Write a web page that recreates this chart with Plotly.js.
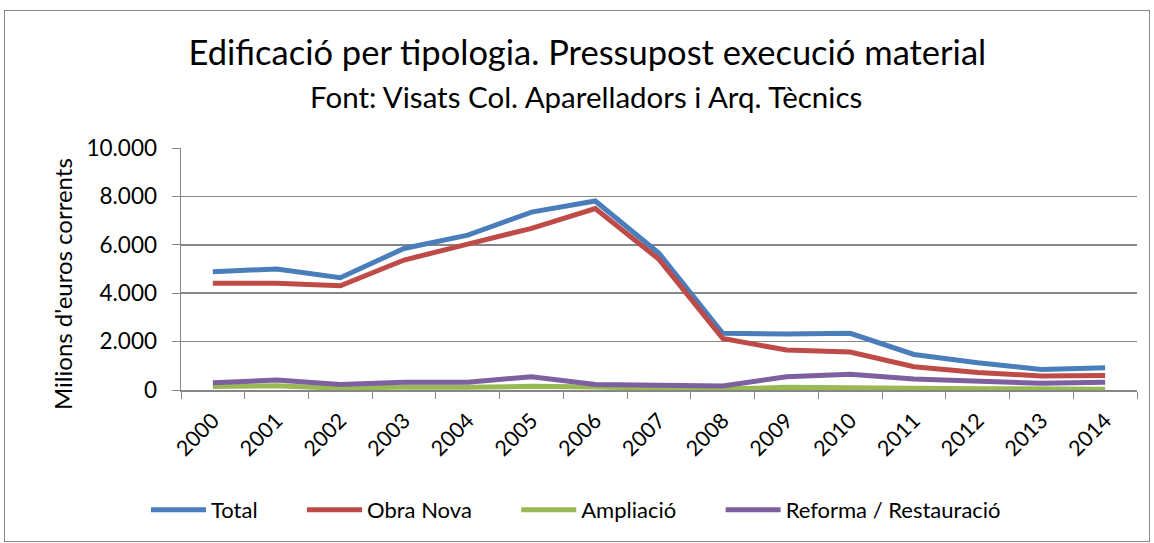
<!DOCTYPE html>
<html>
<head>
<meta charset="utf-8">
<script src="https://cdn.plot.ly/plotly-3.0.1.min.js"></script>
<style>
html,body{margin:0;padding:0;background:#fff;}
#frame{position:absolute;left:4px;top:10px;width:1146px;height:532px;border:1px solid #868686;box-sizing:border-box;}
#chart{position:absolute;left:0;top:0;width:1154px;height:543px;}
</style>
</head>
<body>
<div id="frame"></div>
<div id="chart"></div>
<script>
const years = ["2000","2001","2002","2003","2004","2005","2006","2007","2008","2009","2010","2011","2012","2013","2014"];
const total = [4890,5000,4640,5850,6400,7350,7810,5650,2340,2310,2340,1470,1130,850,920];
const obraNova = [4410,4410,4310,5370,6030,6680,7500,5400,2130,1650,1570,960,720,580,600];
const ampliacio = [140,180,70,120,110,150,120,70,40,110,110,70,55,30,30];
const reforma = [300,410,230,320,320,550,230,210,165,550,650,450,340,280,320];
const seriesNames = ["Total","Obra Nova","Ampliació","Reforma / Restauració"];
const colors = ["#4A7EBB","#BE4B48","#98B954","#7D60A0"];
const titleText = "Edificació per tipologia. Pressupost execució material";
const subtitleText = "Font: Visats Col. Aparelladors i Arq. Tècnics";
const yTitleText = "Milions d'euros corrents";
const pad = "\u00a0".repeat(7);
const data = [total, obraNova, ampliacio, reforma].map((v,i)=>({
  x: years, y: v, name: seriesNames[i] + (i < 3 ? pad : ""), type: "scatter", mode: "lines",
  line: {color: colors[i], width: 5}
}));
const font = "Lato, 'Open Sans', sans-serif";
const layout = {
  width: 1154, height: 543,
  paper_bgcolor: "rgba(0,0,0,0)", plot_bgcolor: "rgba(0,0,0,0)",
  margin: {l: 181, r: 17, t: 148, b: 153},
  font: {family: font, color: "#000", size: 21},
  separators: ",.",
  title: {text: titleText, font: {family: font, size: 34.5, color: "#000"},
    x: 0.509, xanchor: "center", y: 1 - 53/543, yanchor: "middle"},
  annotations: [
    {text: subtitleText, xref: "paper", yref: "paper", x: (586-181)/956, y: (390-97)/242,
     xanchor: "center", yanchor: "middle", showarrow: false, font: {family: font, size: 29.5, color: "#000"}},
    {text: yTitleText, xref: "paper", yref: "paper", x: (62-181)/956, y: (390-284)/242, textangle: -90,
     xanchor: "center", yanchor: "middle", showarrow: false, font: {family: font, size: 24, color: "#000"}}
  ],
  xaxis: {type: "category", range: [-0.5, 14.5], tickangle: -45, tickson: "boundaries", ticks: "outside", ticklen: 7,
    tickcolor: "#868686", showline: true, linecolor: "#868686", linewidth: 1.5, showgrid: false,
    tickfont: {size: 21.5}, ticklabelstandoff: 8, fixedrange: true},
  yaxis: {range: [0, 10000], dtick: 2000, tickformat: ",.0f", ticks: "outside", ticklen: 8,
    tickcolor: "#868686", showline: true, linecolor: "#868686", linewidth: 1.5,
    gridcolor: "#868686", gridwidth: 1.5, zeroline: false, tickfont: {size: 22.5}, ticklabelstandoff: 10},
  legend: {orientation: "h", x: (576-181)/956, xanchor: "center", y: (390-510)/242, yanchor: "middle",
    font: {size: 22}, itemwidth: 55},
  showlegend: true
};
Plotly.newPlot("chart", data, layout, {displayModeBar: false, staticPlot: true});
</script>
</body>
</html>
